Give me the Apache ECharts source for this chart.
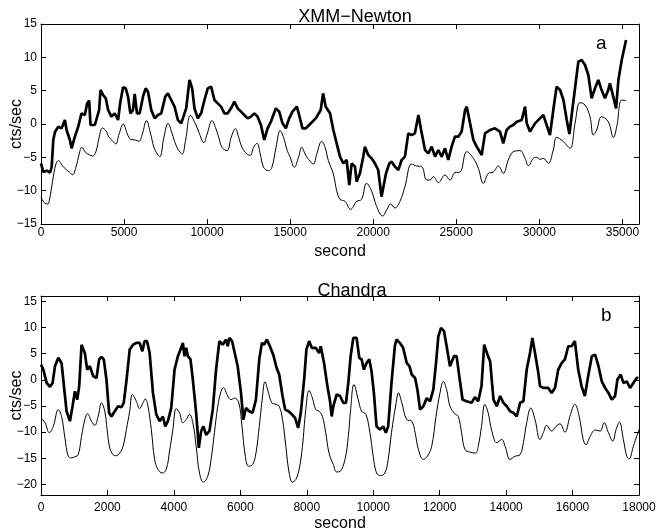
<!DOCTYPE html>
<html lang="en">
<head>
<meta charset="UTF-8" />
<script src="https://cdn.jsdelivr.net/npm/echarts@6/dist/echarts.min.js"></script>
<title>XMM-Newton / Chandra light curves</title>
<style>
  html, body { margin: 0; background: #fff; }
  #app { width: 659px; height: 529px; }
</style>
</head>
<body>
<div id="app"></div>
<script>
// tick positions
const xmmTicksX = [0, 5000, 10000, 15000, 20000, 25000, 30000, 35000];
const xmmTicksY = [-15, -10, -5, 0, 5, 10, 15];
const chandraTicksX = [0, 2000, 4000, 6000, 8000, 10000, 12000, 14000, 16000, 18000];
const chandraTicksY = [-20, -15, -10, -5, 0, 5, 10, 15];

// [second, cts/sec]
const xmmThick = [
  [0,-5.9],[140,-7.2],[340,-7.0],[540,-7.3],[640,-6.5],[740,-2.4],[840,-1.2],[1040,-0.4],[1240,-0.65],
  [1440,0.6],[1540,-0.9],[1740,-2.4],[1840,-3.65],[2040,-1.9],[2240,-0.4],[2440,1.6],[2640,1.35],
  [2780,3.1],[2900,3.5],[2980,-0.15],[3240,-0.15],[3500,2.1],[3580,5.1],[3740,4.35],[3900,3.85],
  [4040,2.1],[4240,1.1],[4440,1.6],[4640,0.6],[4780,3.35],[4940,5.5],[5100,5.35],[5240,4.1],
  [5380,1.6],[5540,2.1],[5640,4.5],[5780,1.6],[5940,1.6],[6140,4.1],[6300,5.35],[6440,4.85],
  [6640,2.1],[6840,0.85],[7040,1.35],[7240,1.6],[7480,4.1],[7640,4.6],[7840,3.6],[8040,2.6],
  [8240,0.6],[8440,0.1],[8740,2.35],[8940,6.6],[9100,5.35],[9240,2.35],[9440,0.85],[9640,1.6],
  [9840,3.6],[10040,5.35],[10240,5.6],[10440,3.6],[10640,3.1],[10840,2.6],[11040,1.6],[11240,1.6],
  [11440,2.35],[11640,3.35],[11840,2.35],[12040,1.85],[12240,1.35],[12440,0.85],[12640,1.1],
  [12840,1.6],[13040,1.1],[13240,-0.15],[13440,-2.4],[13640,-0.65],[13840,0.35],[14140,2.35],
  [14340,1.85],[14540,0.1],[14740,-0.65],[14940,0.85],[15140,1.85],[15400,2.6],[15540,1.35],
  [15740,-0.65],[15940,-0.65],[16140,-0.15],[16540,0.85],[16840,2.1],[16980,4.6],[17140,2.6],
  [17400,1.6],[17600,-0.9],[17800,-2.9],[18000,-4.9],[18200,-5.9],[18400,-5.4],[18560,-9.15],
  [18700,-5.9],[18900,-6.4],[19000,-8.65],[19200,-7.4],[19400,-4.9],[19500,-3.4],[19700,-4.65],
  [19900,-5.15],[20100,-5.9],[20300,-6.9],[20500,-10.9],[20610,-11.15],[20770,-7.4],[20970,-5.9],
  [21110,-5.65],[21310,-6.4],[21510,-6.9],[21710,-5.4],[21910,-4.9],[22110,-1.4],[22310,-1.65],
  [22510,-1.4],[22720,1.35],[22920,-1.4],[23120,-3.9],[23320,-4.4],[23520,-3.4],[23720,-4.9],
  [23920,-3.9],[24120,-4.9],[24320,-3.65],[24520,-5.4],[24720,-3.4],[24920,-1.9],[25120,-1.9],
  [25320,-1.15],[25530,2.1],[25630,2.6],[25790,0.6],[26030,-2.4],[26230,-3.4],[26530,-4.65],
  [26730,-1.4],[27030,-0.9],[27330,-0.65],[27630,-1.15],[27830,-2.9],[28030,-0.9],[28230,-0.4],
  [28430,-0.15],[28640,0.35],[28940,0.6],[29140,2.6],[29240,0.1],[29440,-1.15],[29740,0.1],
  [30040,0.85],[30240,1.35],[30440,-0.15],[30640,-1.65],[30840,2.1],[31040,5.6],[31250,5.1],
  [31450,3.6],[31650,0.6],[31810,-1.5],[32010,2.6],[32210,6.6],[32350,9.35],[32550,9.6],
  [32750,8.85],[32950,7.35],[33150,3.85],[33350,5.35],[33550,6.6],[33750,5.1],[33950,3.85],
  [34150,5.1],[34250,6.1],[34450,4.1],[34620,2.35],[34760,6.6],[34960,9.6],[35220,12.6]
];
const xmmThin = [
  [0,-11],[200,-11.8],[400,-12],[500,-11.5],[700,-8.5],[900,-6],[1050,-5.5],[1300,-6.3],[1500,-6.8],
  [1700,-7.2],[1900,-7.6],[2100,-6.5],[2300,-4.5],[2450,-3.5],[2700,-4.3],[2900,-4.6],[3100,-4.8],
  [3300,-4.2],[3500,-2],[3700,-0.6],[3900,-1],[4100,-2],[4300,-2.5],[4500,-3],[4700,-1.5],[4950,0],
  [5200,-1.5],[5400,-2.3],[5700,-2.4],[5900,-2.6],[6100,-1.5],[6350,0.5],[6600,-1.5],[6800,-3.5],
  [7000,-4.5],[7150,-4.9],[7400,-2],[7650,0.1],[7900,-1.5],[8100,-3],[8300,-4],[8500,-4.5],
  [8700,-2.5],[9000,1.3],[9300,0],[9500,-1.2],[9800,-2.8],[10000,-1.5],[10300,0.5],[10500,-0.5],
  [10700,-2],[10900,-3.5],[11200,-4],[11450,-2],[11700,-0.7],[11900,-2],[12100,-3.5],[12400,-4.5],
  [12600,-4.7],[12800,-3.5],[13000,-2.9],[13200,-4.5],[13400,-6.5],[13700,-7],[13900,-6.5],
  [14150,-3.5],[14400,-1],[14600,-2],[14800,-3.8],[15000,-5],[15250,-6.5],[15500,-5],[15700,-3.5],
  [15900,-4.5],[16100,-5.3],[16400,-6],[16600,-4.5],[16900,-2.6],[17100,-3.5],[17300,-5.5],
  [17600,-7.5],[17800,-10],[18000,-11.3],[18300,-11.6],[18640,-12.8],[19000,-11.6],[19300,-11.3],
  [19600,-8.9],[19910,-10.1],[20210,-12.4],[20570,-13.8],[20810,-12.9],[21050,-12],[21310,-12.6],
  [21610,-11.6],[21910,-9.4],[22310,-6],[22610,-6.3],[22920,-6.4],[23220,-8.4],[23420,-8.4],
  [23620,-7.9],[23920,-8.8],[24320,-7.65],[24620,-8.4],[24920,-7.3],[25230,-7.2],[25630,-4.15],
  [26030,-5.15],[26330,-6.65],[26630,-8.9],[26930,-7.4],[27230,-7.2],[27530,-6.3],[27830,-7.4],
  [28130,-5.4],[28430,-4.15],[28840,-4],[29140,-5.15],[29340,-6.25],[29640,-5.15],[29840,-5],
  [30040,-5.3],[30240,-5.15],[30540,-5.9],[30840,-3.9],[31040,-2],[31450,-2.65],[31850,-3.65],
  [32150,0.1],[32450,3.2],[32750,2.85],[33050,1.1],[33250,-1.65],[33450,-0.9],[33750,1.1],
  [34150,0.35],[34460,-2],[34660,-0.4],[34960,3.6],[35220,3.5]
];
const chandraThick = [
  [0,2.9],[70,1.95],[170,-0.6],[270,-1.35],[350,-0.6],[420,2.6],[520,4.2],[620,3.2],[690,-1.2],
  [770,-6.0],[870,-7.9],[950,-5.05],[1020,-2.2],[1090,-3.8],[1150,-1.2],[1220,6.7],[1320,5.1],
  [1390,1.95],[1470,2.6],[1570,0.7],[1670,0.35],[1750,3.9],[1820,4.35],[1890,3.9],[1970,0.05],
  [2050,-6.3],[2120,-7.0],[2220,-6.0],[2320,-5.05],[2420,-5.25],[2490,-4.4],[2570,-0.3],[2670,5.8],
  [2770,6.7],[2870,7.05],[2970,7.05],[3050,5.45],[3120,7.4],[3190,7.4],[3270,5.1],[3370,-2.5],
  [3470,-6.6],[3570,-7.9],[3670,-7.0],[3740,-8.9],[3820,-7.9],[3920,-5.4],[4020,1.95],[4120,4.5],
  [4220,6.1],[4270,7.05],[4320,4.5],[4370,6.1],[4420,4.5],[4500,3.9],[4570,0.05],[4670,-6.3],
  [4750,-13.0],[4820,-9.8],[4890,-8.9],[4970,-10.5],[5070,-9.8],[5170,-5.7],[5270,1.95],[5370,7.4],
  [5470,6.7],[5570,7.7],[5620,6.4],[5670,8.0],[5750,7.4],[5820,5.45],[5920,2.6],[6020,-2.5],
  [6090,-7.6],[6170,-5.4],[6270,-6.0],[6370,-6.3],[6470,-3.8],[6570,3.9],[6650,7.05],[6720,6.7],
  [6800,7.7],[6890,6.4],[6990,4.8],[7090,2.3],[7170,1.0],[7270,-3.1],[7350,-5.7],[7450,-6.0],
  [7550,-6.6],[7650,-7.3],[7740,-9.2],[7820,-6.3],[7920,0.05],[7990,5.8],[8070,7.4],[8150,6.1],
  [8270,6.1],[8370,5.1],[8420,6.4],[8520,3.2],[8620,-1.2],[8700,-4.1],[8750,-7.0],[8800,-5.05],
  [8900,-2.8],[9000,-3.1],[9100,-4.4],[9180,-4.4],[9250,-0.6],[9320,4.5],[9400,8.0],[9500,8.0],
  [9580,4.2],[9650,3.9],[9720,1.95],[9800,3.2],[9880,3.9],[9950,1.6],[10020,-2.5],[10100,-8.9],
  [10200,-9.5],[10300,-8.9],[10380,-10.1],[10450,-8.9],[10550,-0.6],[10650,6.4],[10700,7.7],
  [10800,7.05],[10900,6.1],[11010,3.2],[11090,2.6],[11160,1.0],[11260,0.35],[11330,-1.85],
  [11410,-5.7],[11510,-5.05],[11610,-3.5],[11710,-4.1],[11810,-1.85],[11890,3.2],[11960,8.3],
  [12040,9.9],[12130,9.3],[12210,6.4],[12310,2.6],[12430,4.5],[12510,4.5],[12590,0.7],[12690,-3.8],
  [12810,-4.1],[12960,-4.4],[13060,-3.3],[13160,-4.1],[13260,-1.2],[13340,6.7],[13440,4.8],
  [13520,3.5],[13620,-3.8],[13720,-5.05],[13820,-3.1],[13920,-4.4],[14020,-5.05],[14120,-6.0],
  [14220,-6.3],[14320,-7.0],[14420,-4.4],[14520,-4.1],[14620,1.95],[14720,5.1],[14790,8.0],
  [14870,5.1],[14970,1.3],[15020,-1.2],[15120,-1.55],[15270,-1.55],[15370,-2.5],[15470,-1.55],
  [15570,1.95],[15670,3.2],[15770,3.9],[15870,6.4],[15970,6.4],[16070,7.4],[16170,1.95],
  [16270,-1.2],[16370,-3.1],[16470,0.7],[16580,4.5],[16680,4.8],[16780,2.6],[16880,-0.3],
  [16980,-1.55],[17080,-2.5],[17180,-3.8],[17280,-3.1],[17350,0.05],[17450,1.0],[17530,-0.6],
  [17630,-0.3],[17730,-1.55],[17830,-0.6],[17930,0.35],[17980,0.35]
];
const chandraThin = [
  [0,-7.3],[120,-8.2],[250,-10.1],[370,-8.9],[520,-5.7],[620,-7.0],[720,-11.1],[820,-14.6],
  [920,-14.9],[1020,-14.7],[1120,-14.3],[1220,-10.8],[1320,-7.6],[1400,-6.5],[1520,-7.9],
  [1620,-8.7],[1720,-7.0],[1820,-4.4],[1920,-6.0],[1990,-9.5],[2070,-13.0],[2170,-14.3],
  [2250,-14.5],[2370,-14.0],[2470,-12.7],[2570,-9.5],[2670,-6.0],[2750,-2.8],[2870,-4.1],
  [2970,-5.5],[3070,-4.4],[3140,-3.65],[3220,-5.05],[3320,-9.5],[3420,-15.2],[3520,-17.1],
  [3650,-17.8],[3770,-17.1],[3870,-13.6],[3970,-9.5],[4070,-5.5],[4170,-6.3],[4270,-8.2],
  [4370,-7.6],[4470,-6.6],[4570,-8.2],[4670,-12.7],[4770,-17.8],[4890,-19.55],[5020,-18.4],
  [5120,-15.2],[5220,-10.1],[5320,-5.1],[5420,-2.2],[5490,-1.5],[5620,-3.1],[5720,-3.8],
  [5820,-3.5],[5950,-4.3],[6050,-8.9],[6150,-14.6],[6250,-16.5],[6370,-16.2],[6470,-14.0],
  [6570,-8.9],[6670,-3.1],[6740,-0.4],[6850,-2.5],[6950,-4.4],[7070,-4.7],[7170,-5.05],
  [7270,-7.6],[7370,-12.7],[7470,-17.8],[7570,-19.55],[7670,-19.05],[7770,-17.1],[7870,-12.7],
  [7970,-5.7],[8070,-2.05],[8170,-3.5],[8270,-5.7],[8370,-6.0],[8470,-7.0],[8570,-10.1],
  [8670,-14.0],[8800,-16.2],[8900,-17.6],[9000,-17.5],[9150,-15.2],[9250,-10.8],[9320,-5.7],
  [9420,-0.9],[9550,-3.8],[9650,-6.0],[9780,-6.6],[9900,-10.1],[10000,-14.6],[10100,-17.8],
  [10220,-18.3],[10350,-17.8],[10450,-15.2],[10550,-10.1],[10690,-4.4],[10760,-2.5],[10860,-4.4],
  [11010,-7.6],[11160,-7.9],[11260,-10.1],[11360,-13.3],[11510,-15.2],[11630,-14.6],[11760,-12.7],
  [11890,-7.0],[12010,-2.5],[12110,-0.3],[12210,-1.9],[12310,-5.05],[12460,-6.5],[12560,-7.0],
  [12660,-10.1],[12760,-13.3],[12910,-13.8],[13080,-14.0],[13160,-12.7],[13260,-8.9],[13360,-4.7],
  [13460,-6.3],[13570,-9.8],[13720,-12.0],[13870,-11.4],[13970,-12.7],[14120,-15.2],[14270,-14.6],
  [14420,-14.3],[14520,-12.0],[14620,-8.2],[14740,-5.4],[14870,-7.6],[15020,-11.4],[15120,-10.1],
  [15220,-8.7],[15370,-9.8],[15500,-8.9],[15620,-8.4],[15770,-10.0],[15920,-7.0],[16070,-4.7],
  [16200,-7.0],[16320,-11.4],[16400,-12.4],[16530,-10.8],[16680,-9.6],[16830,-9.8],[16950,-8.2],
  [17080,-10.1],[17210,-11.7],[17310,-9.5],[17410,-8.1],[17530,-11.4],[17630,-14.6],[17700,-15.1],
  [17830,-12.7],[18000,-9.5]
];

const font = "'Liberation Sans', Arial, sans-serif";
const minus = (v) => String(v).replace("-", "\u2212");

function axis(gridIndex, position, min, max, ticks, opts) {
  opts = opts || {};
  return {
    type: "value",
    gridIndex,
    position,
    min,
    max,
    axisLine: { show: true, onZero: false, lineStyle: { color: "#000", width: 1 } },
    axisTick: { show: true, inside: true, length: 5, customValues: ticks, lineStyle: { color: "#000", width: 1 } },
    axisLabel: {
      show: !!opts.labels,
      customValues: ticks,
      formatter: minus,
      color: "#000",
      fontSize: 12,
      fontFamily: font,
      margin: opts.margin || 4,
    },
    splitLine: { show: false },
    name: opts.name || "",
    nameLocation: "middle",
    nameGap: opts.nameGap || 20,
    nameMoveOverlap: false,
    nameTextStyle: { color: "#000", fontSize: 16, fontFamily: font },
  };
}

function curve(data, width, xi, yi, smooth) {
  return {
    type: "line",
    data,
    xAxisIndex: xi,
    yAxisIndex: yi,
    showSymbol: false,
    symbol: "none",
    smooth: smooth,
    lineStyle: { color: "#000", width },
    z: width > 2 ? 3 : 2,
  };
}

const chart = echarts.init(document.getElementById("app"));
chart.setOption({
  animation: false,
  backgroundColor: "#fff",
  title: [
    { text: "XMM\u2212Newton", left: 350, top: 3, textAlign: "center",
      textStyle: { fontSize: 18, fontWeight: "normal", color: "#000", fontFamily: font } },
    { text: "Chandra", left: 347, top: 277, textAlign: "center",
      textStyle: { fontSize: 18, fontWeight: "normal", color: "#000", fontFamily: font } },
  ],
  graphic: [
    { type: "text", left: 596, top: 34, style: { text: "a", fontSize: 19, fontFamily: font, fill: "#000" } },
    { type: "text", left: 601, top: 306, style: { text: "b", fontSize: 19, fontFamily: font, fill: "#000" } },
  ],
  grid: [
    { left: 41, top: 24, width: 598, height: 200, outerBoundsMode: "none" },
    { left: 41, top: 296, width: 598, height: 199, outerBoundsMode: "none" },
  ],
  xAxis: [
    axis(0, "bottom", 0, 36000, xmmTicksX, { labels: true, margin: 3, name: "second", nameGap: 20 }),
    axis(0, "top", 0, 36000, xmmTicksX),
    axis(1, "bottom", 0, 18000, chandraTicksX, { labels: true, margin: 7, name: "second", nameGap: 21 }),
    axis(1, "top", 0, 18000, chandraTicksX),
  ],
  yAxis: [
    axis(0, "left", -15, 15, xmmTicksY, { labels: true, name: "cts/sec", nameGap: 16 }),
    axis(0, "right", -15, 15, xmmTicksY),
    axis(1, "left", -22, 16, chandraTicksY, { labels: true, name: "cts/sec", nameGap: 16 }),
    axis(1, "right", -22, 16, chandraTicksY),
  ],
  series: [
    curve(xmmThin, 1, 0, 0, 0.4),
    curve(xmmThick, 2.7, 0, 0, false),
    curve(chandraThin, 1, 2, 2, 0.4),
    curve(chandraThick, 2.7, 2, 2, false),
  ],
});
</script>
</body>
</html>
